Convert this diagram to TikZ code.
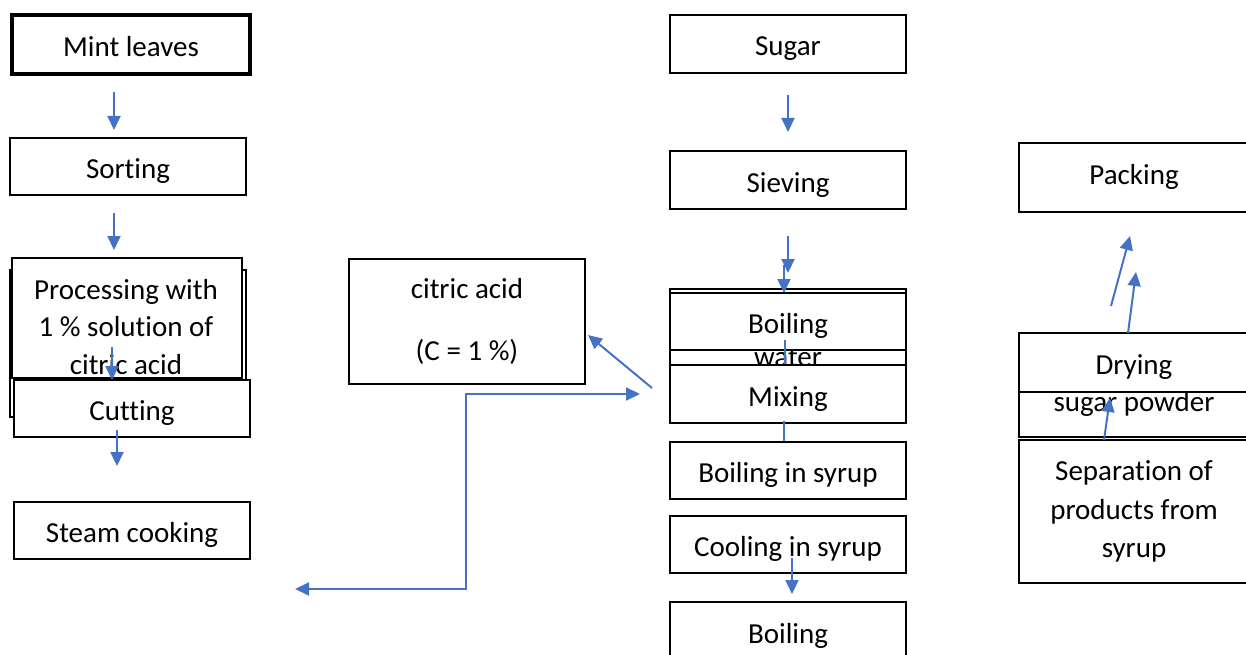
\documentclass[tikz,border=0pt]{standalone}
\usepackage{fontspec}
\setmainfont{Carlito}[Ligatures=NoCommon]
\usetikzlibrary{arrows.meta}
\definecolor{flowblue}{HTML}{4472C4}
\begin{document}
\begin{tikzpicture}[x=1pt,y=-1pt,
  txt/.style={font=\fontsize{29}{37.5}\selectfont, align=center, inner sep=0pt},
  mbox/.style={txt, draw, line width=1.8pt, fill=white, minimum width=236pt, minimum height=57pt},
  box/.style={mbox, text height=26pt, text depth=2pt},
  rbox/.style={box, minimum width=230pt},
  rmbox/.style={mbox, minimum width=230pt},
  flow/.style={draw=flowblue, line width=2pt, -{Triangle[length=14pt,width=13pt]}},
  both/.style={draw=flowblue, line width=2pt, {Triangle[length=14pt,width=13pt]}-{Triangle[length=14pt,width=13pt]}},
]
\useasboundingbox (0,0) rectangle (1246,655);
\clip (0,0) rectangle (1246,655);

% ---------- left column ----------
\node[box, line width=4pt, minimum width=238pt, minimum height=59pt] (mint) at (131,44.5) {Mint leaves};
\node[box] (sorting) at (128,166.5) {Sorting};
\node[mbox, minimum height=147pt] (procback) at (128,343.5) {};
\node[mbox, minimum width=230pt, minimum height=120pt] (procfront) at (127,318) {};
\node[txt] (proctext) at (126,327) {Processing with\\1 \% solution of\\citric acid};
\node[box] (cutting) at (132,408.5) {Cutting};
\node[box] (steam) at (132,530.5) {Steam cooking};

\coordinate (a1s) at (114,92);  \coordinate (a1e) at (114,130);
\coordinate (a2s) at (114,213); \coordinate (a2e) at (114,250);
\coordinate (a3s) at (112,347); \coordinate (a3e) at (112,380);
\coordinate (a4s) at (117,430); \coordinate (a4e) at (117,466);
\draw[flow] (a1s) -- (a1e);
\draw[flow] (a2s) -- (a2e);
\draw[flow] (a3s) -- (a3e);
\draw[flow] (a4s) -- (a4e);

% ---------- citric acid ----------
\node[mbox, minimum height=125pt] (citric) at (467,321.5) {citric acid\\[24.5pt](C = 1 \%)};
\coordinate (a11s) at (652,388); \coordinate (a11e) at (588,335);
\draw[flow] (a11s) -- (a11e);
\coordinate (e1) at (295,589); \coordinate (e2) at (466,589);
\coordinate (e3) at (466,394); \coordinate (e4) at (640,394);
\draw[both] (e1) -- (e2) -- (e3) -- (e4);

% ---------- middle column ----------
\node[box, minimum height=58pt] (sugar) at (788,44) {Sugar};
\node[box, minimum height=58pt] (sieving) at (788,180) {Sieving};
\node[mbox, minimum height=98pt] (boilwater) at (788,338) {\phantom{Boiling}\\water};
\node[box] (boilfront) at (788,321.5) {Boiling};
\coordinate (a8s) at (785,340); \coordinate (a8e) at (785,378);
\draw[flow] (a8s) -- (a8e);
\node[box, minimum height=58pt] (mixing) at (788,394) {Mixing};
\coordinate (a9s) at (784,421); \coordinate (a9e) at (784,458);
\draw[flow] (a9s) -- (a9e);
\node[box] (boilsyrup) at (788,470.5) {Boiling in syrup};
\node[box] (cooling) at (788,544.5) {Cooling in syrup};
\node[box, minimum height=58pt] (boilbottom) at (788,631) {Boiling};

\coordinate (a5s) at (788,95);   \coordinate (a5e) at (788,132);
\coordinate (a6s) at (788,236);  \coordinate (a6e) at (788,273);
\coordinate (a7s) at (784,265);  \coordinate (a7e) at (784,293);
\coordinate (a10s) at (792,558); \coordinate (a10e) at (792,594);
\draw[flow] (a5s) -- (a5e);
\draw[flow] (a6s) -- (a6e);
\draw[flow] (a7s) -- (a7e);
\draw[flow] (a10s) -- (a10e);

% ---------- right column ----------
\node[rbox, minimum height=69pt, text height=16pt] (packing) at (1134,177.5) {Packing};
\node[rmbox, minimum height=104pt] (dryback) at (1134,385) {\phantom{Drying}\\sugar powder};
\node[rbox, minimum height=59pt] (dryfront) at (1134,362.5) {Drying};
\node[rmbox, minimum height=143pt, font=\fontsize{29}{38.5}\selectfont] (separation) at (1134,511.5) {Separation of\\products from\\syrup};

\coordinate (a12s) at (1111,306); \coordinate (a12e) at (1130,236);
\coordinate (a13s) at (1128,333); \coordinate (a13e) at (1136,272);
\coordinate (a14s) at (1104,440); \coordinate (a14e) at (1110,398);
\draw[flow] (a12s) -- (a12e);
\draw[flow] (a13s) -- (a13e);
\draw[flow] (a14s) -- (a14e);
\end{tikzpicture}
\end{document}
